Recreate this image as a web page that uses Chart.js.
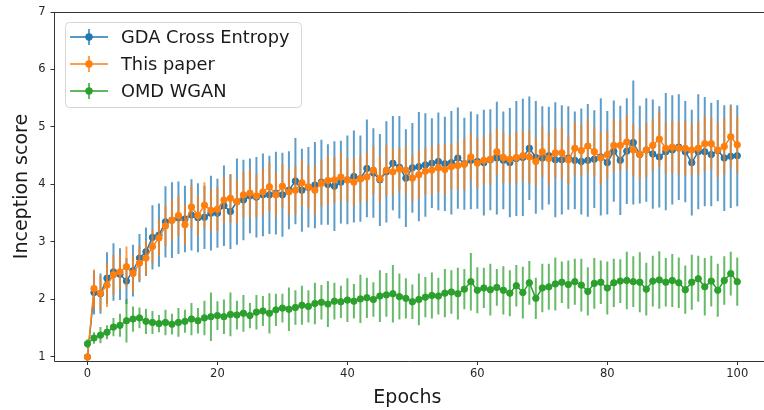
<!DOCTYPE html>
<html>
<head>
<meta charset="utf-8">
<script src="https://cdn.jsdelivr.net/npm/chart.js@4.4.0/dist/chart.umd.min.js"></script>
<style>
  html, body { margin: 0; padding: 0; background: #fff; overflow: hidden; }
  #wrap { width: 764px; height: 410px; }
</style>
</head>
<body>
<div id="wrap"><canvas id="chart" width="764" height="410"></canvas></div>
<script>
// data (mean +/- error per epoch)
const epochs = [0,1,2,3,4,5,6,7,8,9,10,11,12,13,14,15,16,17,18,19,20,21,22,23,24,25,26,27,28,29,30,
  31,32,33,34,35,36,37,38,39,40,41,42,43,44,45,46,47,48,49,50,51,52,53,54,55,56,57,58,59,60,
  61,62,63,64,65,66,67,68,69,70,71,72,73,74,75,76,77,78,79,80,81,82,83,84,85,86,87,88,89,90,
  91,92,93,94,95,96,97,98,99,100];

const gdaMean = [1.00, 2.12, 2.10, 2.37, 2.48, 2.44, 2.32, 2.50, 2.72, 2.83,
  3.08, 3.12, 3.35, 3.38, 3.42, 3.40, 3.47, 3.42, 3.43, 3.50,
  3.50, 3.63, 3.53, 3.70, 3.73, 3.80, 3.78, 3.82, 3.82, 3.85,
  3.82, 3.90, 4.06, 3.90, 3.95, 3.99, 4.04, 4.00, 3.97, 4.04,
  4.08, 4.14, 4.10, 4.28, 4.20, 4.08, 4.22, 4.37, 4.30, 4.11,
  4.29, 4.31, 4.34, 4.37, 4.40, 4.36, 4.38, 4.46, 4.36, 4.42,
  4.40, 4.38, 4.43, 4.46, 4.42, 4.38, 4.45, 4.47, 4.63, 4.47,
  4.46, 4.50, 4.43, 4.43, 4.46, 4.42, 4.40, 4.42, 4.44, 4.48,
  4.38, 4.58, 4.42, 4.58, 4.73, 4.52, 4.60, 4.53, 4.48, 4.57,
  4.60, 4.65, 4.57, 4.38, 4.57, 4.57, 4.52, 4.59, 4.46, 4.49, 4.50];
const gdaErr = [0.05, 0.38, 0.35, 0.45, 0.50, 0.45, 0.40, 0.45, 0.42, 0.42,
  0.56, 0.55, 0.62, 0.66, 0.63, 0.58, 0.62, 0.60, 0.55, 0.65,
  0.60, 0.70, 0.65, 0.75, 0.70, 0.65, 0.70, 0.72, 0.68, 0.72,
  0.73, 0.68, 0.75, 0.72, 0.70, 0.75, 0.74, 0.70, 0.78, 0.72,
  0.77, 0.80, 0.75, 0.85, 0.78, 0.80, 0.88, 0.82, 0.89, 0.85,
  0.78, 0.95, 0.90, 0.78, 0.85, 0.82, 0.90, 0.88, 0.80, 0.85,
  0.82, 0.92, 0.88, 0.98, 0.85, 0.95, 1.00, 1.02, 0.90, 0.98,
  0.90, 0.85, 1.00, 0.95, 0.90, 0.85, 0.92, 0.98, 0.85, 1.02,
  0.90, 0.88, 0.95, 0.92, 1.08, 0.85, 0.90, 0.95, 0.88, 1.02,
  0.95, 0.92, 0.88, 0.92, 1.00, 0.95, 0.90, 0.88, 0.92, 0.90, 0.88];

const paperMean = [1.00, 2.19, 2.11, 2.25, 2.43, 2.48, 2.57, 2.45, 2.63, 2.72,
  2.92, 3.07, 3.28, 3.38, 3.46, 3.30, 3.61, 3.46, 3.64, 3.55,
  3.57, 3.73, 3.76, 3.70, 3.82, 3.85, 3.80, 3.87, 3.96, 3.82,
  3.97, 3.87, 3.90, 4.03, 3.96, 3.90, 4.02, 4.07, 4.08, 4.13,
  4.08, 4.04, 4.10, 4.13, 4.25, 4.10, 4.25, 4.22, 4.27, 4.25,
  4.11, 4.17, 4.23, 4.25, 4.29, 4.26, 4.31, 4.33, 4.35, 4.48,
  4.37, 4.42, 4.44, 4.57, 4.47, 4.44, 4.47, 4.50, 4.48, 4.40,
  4.57, 4.45, 4.55, 4.55, 4.43, 4.63, 4.59, 4.67, 4.57, 4.46,
  4.52, 4.68, 4.68, 4.74, 4.60, 4.52, 4.60, 4.68, 4.79, 4.63,
  4.65, 4.63, 4.63, 4.60, 4.63, 4.71, 4.71, 4.60, 4.66, 4.83, 4.69];
const paperErr = [0.03, 0.33, 0.30, 0.38, 0.35, 0.30, 0.35, 0.33, 0.30, 0.30,
  0.30, 0.32, 0.35, 0.36, 0.35, 0.35, 0.38, 0.35, 0.40, 0.36,
  0.38, 0.40, 0.42, 0.38, 0.40, 0.42, 0.38, 0.40, 0.42, 0.38,
  0.38, 0.40, 0.42, 0.40, 0.38, 0.42, 0.40, 0.43, 0.40, 0.42,
  0.38, 0.42, 0.40, 0.43, 0.42, 0.40, 0.44, 0.40, 0.37, 0.42,
  0.40, 0.42, 0.40, 0.43, 0.41, 0.44, 0.40, 0.42, 0.45, 0.42,
  0.44, 0.42, 0.45, 0.40, 0.44, 0.42, 0.45, 0.43, 0.46, 0.42,
  0.44, 0.46, 0.43, 0.45, 0.42, 0.46, 0.44, 0.47, 0.43, 0.45,
  0.42, 0.46, 0.44, 0.47, 0.45, 0.43, 0.47, 0.45, 0.48, 0.44,
  0.46, 0.45, 0.48, 0.44, 0.46, 0.48, 0.45, 0.47, 0.49, 0.52, 0.50];

const omdMean = [1.23, 1.33, 1.38, 1.43, 1.52, 1.55, 1.63, 1.66, 1.68, 1.62,
  1.60, 1.58, 1.60, 1.57, 1.60, 1.62, 1.66, 1.63, 1.68, 1.70,
  1.72, 1.70, 1.74, 1.73, 1.76, 1.72, 1.78, 1.80, 1.76, 1.82,
  1.85, 1.83, 1.86, 1.90, 1.88, 1.93, 1.95, 1.92, 1.97, 1.96,
  1.99, 1.97, 2.01, 2.03, 2.00, 2.06, 2.08, 2.10, 2.05, 2.02,
  1.96, 2.00, 2.04, 2.07, 2.06, 2.11, 2.13, 2.10, 2.18, 2.31,
  2.16, 2.20, 2.17, 2.21, 2.16, 2.11, 2.24, 2.12, 2.29, 2.02,
  2.20, 2.22, 2.27, 2.30, 2.26, 2.31, 2.25, 2.14, 2.28, 2.30,
  2.20, 2.29, 2.32, 2.33, 2.31, 2.30, 2.18, 2.32, 2.34, 2.30,
  2.33, 2.29, 2.17, 2.30, 2.36, 2.22, 2.32, 2.16, 2.33, 2.45, 2.31];
const omdErr = [0.08, 0.10, 0.14, 0.12, 0.16, 0.20, 0.38, 0.22, 0.18, 0.22,
  0.20, 0.15, 0.22, 0.18, 0.25, 0.20, 0.28, 0.22, 0.30, 0.42,
  0.25, 0.30, 0.38, 0.25, 0.32, 0.22, 0.30, 0.26, 0.35, 0.28,
  0.25, 0.38, 0.30, 0.34, 0.28, 0.36, 0.30, 0.40, 0.32, 0.28,
  0.38, 0.30, 0.42, 0.35, 0.30, 0.45, 0.38, 0.50, 0.40, 0.35,
  0.30, 0.45, 0.35, 0.40, 0.32, 0.42, 0.38, 0.45, 0.35, 0.50,
  0.40, 0.35, 0.45, 0.32, 0.42, 0.40, 0.36, 0.45, 0.38, 0.36,
  0.42, 0.40, 0.46, 0.36, 0.42, 0.40, 0.46, 0.42, 0.44, 0.38,
  0.46, 0.42, 0.38, 0.50, 0.44, 0.52, 0.46, 0.44, 0.50, 0.42,
  0.46, 0.44, 0.42, 0.48, 0.40, 0.50, 0.44, 0.46, 0.42, 0.38, 0.42];

const seriesNames = ["GDA Cross Entropy", "This paper", "OMD WGAN"];
const xTicks = [0, 20, 40, 60, 80, 100];
const yTicks = [1, 2, 3, 4, 5, 6, 7];

const FONT = "'DejaVu Sans', sans-serif";
const toPts = (ys) => ys.map((y, i) => ({ x: epochs[i], y: y }));

function series(label, means, errs, color, errColor, order) {
  return {
    label: label,
    data: toPts(means),
    errors: errs,
    errColor: errColor,
    borderColor: color,
    backgroundColor: color,
    borderWidth: 1.5,
    pointRadius: 3.2,
    pointBorderWidth: 1,
    pointHoverRadius: 3.2,
    tension: 0,
    order: order
  };
}

// vertical error bars, drawn just under each dataset's own line/markers
const errorBars = {
  id: "errorBars",
  beforeDatasetDraw(chart, args) {
    const ds = chart.data.datasets[args.index];
    const xs = chart.scales.x, ys = chart.scales.y;
    const ctx = chart.ctx;
    ctx.save();
    ctx.strokeStyle = ds.errColor;
    ctx.lineWidth = 2;
    ctx.beginPath();
    ds.data.forEach((p, i) => {
      const px = xs.getPixelForValue(p.x);
      ctx.moveTo(px, ys.getPixelForValue(p.y - ds.errors[i]));
      ctx.lineTo(px, ys.getPixelForValue(p.y + ds.errors[i]));
    });
    ctx.stroke();
    ctx.restore();
  }
};

// axes frame; the right side falls outside the cropped figure
const frame = {
  id: "frame",
  afterDatasetsDraw(chart) {
    const a = chart.chartArea, ctx = chart.ctx;
    const l = Math.round(a.left) - 0.5, t = Math.round(a.top) + 0.5, b = Math.round(a.bottom) + 0.5;
    ctx.save();
    ctx.strokeStyle = "#333";
    ctx.lineWidth = 1;
    ctx.beginPath();
    ctx.moveTo(chart.width + 2, t);
    ctx.lineTo(l, t);
    ctx.lineTo(l, b);
    ctx.lineTo(chart.width + 2, b);
    ctx.stroke();
    ctx.restore();
  }
};

// matplotlib-like legend, upper left
const mplLegend = {
  id: "mplLegend",
  afterDraw(chart) {
    const ctx = chart.ctx;
    const x0 = 65, y0 = 22, w = 236, h = 85;
    ctx.save();
    ctx.beginPath();
    ctx.roundRect(x0 + 0.5, y0 + 0.5, w, h, 4);
    ctx.fillStyle = "rgba(255,255,255,0.8)";
    ctx.fill();
    ctx.strokeStyle = "#d6d6d6";
    ctx.lineWidth = 1;
    ctx.stroke();
    ctx.font = "17.8px " + FONT;
    ctx.textBaseline = "middle";
    ctx.textAlign = "left";
    chart.data.datasets.forEach((ds, i) => {
      const cy = 37 + i * 27;
      ctx.strokeStyle = ds.errColor;
      ctx.lineWidth = 2;
      ctx.beginPath();
      ctx.moveTo(89, cy - 8);
      ctx.lineTo(89, cy + 8);
      ctx.stroke();
      ctx.strokeStyle = ds.borderColor;
      ctx.lineWidth = 1.5;
      ctx.beginPath();
      ctx.moveTo(70, cy);
      ctx.lineTo(108, cy);
      ctx.stroke();
      ctx.fillStyle = ds.borderColor;
      ctx.beginPath();
      ctx.arc(89, cy, 3.7, 0, Math.PI * 2);
      ctx.fill();
      ctx.fillStyle = "#1a1a1a";
      ctx.fillText(ds.label, 121, cy + 1);
    });
    ctx.restore();
  }
};

const ctx = document.getElementById("chart").getContext("2d");
const chart = new Chart(ctx, {
  type: "line",
  data: {
    datasets: [
      series(seriesNames[0], gdaMean, gdaErr, "#1f77b4", "rgba(31,119,180,0.72)", 3),
      series(seriesNames[1], paperMean, paperErr, "#ff7f0e", "rgba(255,127,14,0.75)", 2),
      series(seriesNames[2], omdMean, omdErr, "#2ca02c", "rgba(44,160,44,0.72)", 1)
    ]
  },
  options: {
    responsive: false,
    animation: false,
    devicePixelRatio: 1,
    layout: { padding: { top: 12, right: 0, left: 0, bottom: 0 } },
    plugins: { legend: { display: false }, tooltip: { enabled: false } },
    scales: {
      x: {
        type: "linear",
        min: -5,
        max: 103.47,
        afterBuildTicks: (s) => { s.ticks = xTicks.map((v) => ({ value: v })); },
        afterFit: (s) => { s.height = 49; },
        grid: { display: true, drawOnChartArea: false, drawTicks: true, tickLength: 4, tickColor: "#333" },
        border: { display: false },
        ticks: { font: { family: FONT, size: 11.5 }, color: "#262626", padding: 2, maxRotation: 0, autoSkip: false },
        title: { display: true, text: "Epochs", font: { family: FONT, size: 19 }, color: "#1a1a1a", padding: { top: 0, bottom: 1 } }
      },
      y: {
        min: 0.93,
        max: 7,
        afterBuildTicks: (s) => { s.ticks = yTicks.map((v) => ({ value: v })); },
        afterFit: (s) => { s.width = 55; },
        grid: { display: true, drawOnChartArea: false, drawTicks: true, tickLength: 4.5, tickColor: "#333" },
        border: { display: false },
        ticks: { font: { family: FONT, size: 11.5 }, color: "#262626", padding: 5, autoSkip: false },
        title: { display: true, text: "Inception score", font: { family: FONT, size: 19 }, color: "#1a1a1a", padding: { top: 11, bottom: 0 } }
      }
    }
  },
  plugins: [errorBars, frame, mplLegend]
});
</script>
</body>
</html>
